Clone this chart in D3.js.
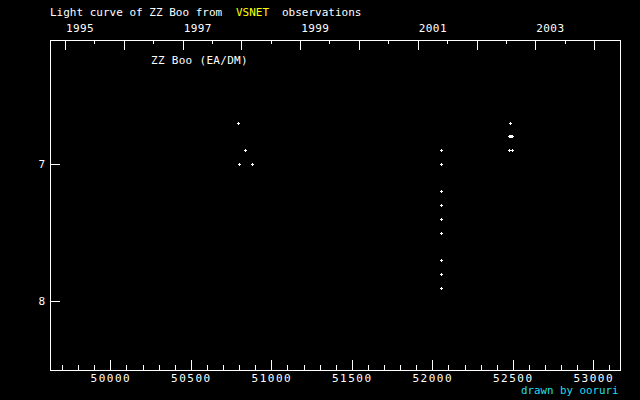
<!DOCTYPE html>
<html>
<head>
<meta charset="utf-8">
<script src="https://cdn.jsdelivr.net/npm/d3@7"></script>
<style>
html,body{margin:0;padding:0;background:#000;}
svg{display:block;}
text{font-family:"DejaVu Sans Mono",monospace;fill:#fff;}
</style>
</head>
<body>
<svg id="chart" width="640" height="400"></svg>
<script>
// ---- data ----
const starName = "ZZ Boo";
const starType = "ZZ Boo (EA/DM)";
const mjd = [50795, 50838, 50801, 50882,
  52056, 52056, 52056, 52056, 52056, 52056, 52056, 52056, 52056,
  52484, 52478, 52484, 52490, 52496, 52474, 52492];
const mag = [6.7, 6.9, 7.0, 7.0,
  6.9, 7.0, 7.2, 7.3, 7.4, 7.5, 7.7, 7.8, 7.9,
  6.7, 6.8, 6.8, 6.8, 6.8, 6.9, 6.9];
const mjdTicks = [50000, 50500, 51000, 51500, 52000, 52500, 53000];
const magTicks = [7, 8];
const years = [1995, 1996, 1997, 1998, 1999, 2000, 2001, 2002, 2003, 2004];
const yearLabels = [1995, 1997, 1999, 2001, 2003];

// ---- layout ----
const W = 640, H = 400;
const L = 50, R = 620, T = 40, B = 370;
const svg = d3.select("#chart");
svg.append("rect").attr("width", W).attr("height", H).attr("fill", "#000");

const x = d3.scaleLinear().domain([49625, 53166]).range([L, R]);
const y = d3.scaleLinear().domain([6.1, 8.5]).range([T, B]);
const toMJD = (yr, m, d) => Date.UTC(yr, m, d) / 86400000 + 40587;

const g = svg.append("g").attr("stroke", "#fff").attr("stroke-width", 1).attr("fill", "none");
// frame
g.append("rect").attr("x", L + 0.5).attr("y", T + 0.5).attr("width", R - L).attr("height", B - T);

// bottom axis ticks (inside, pointing up)
const minorMJD = d3.range(49700, 53166, 100).filter(v => v % 500 !== 0);
g.selectAll(".bmin").data(minorMJD).enter().append("line")
  .attr("x1", d => Math.round(x(d)) + 0.5).attr("x2", d => Math.round(x(d)) + 0.5)
  .attr("y1", B).attr("y2", B - 5);
g.selectAll(".bmaj").data(mjdTicks).enter().append("line")
  .attr("x1", d => Math.round(x(d)) + 0.5).attr("x2", d => Math.round(x(d)) + 0.5)
  .attr("y1", B).attr("y2", B - 10);
svg.selectAll(".blab").data(mjdTicks).enter().append("text")
  .attr("x", d => x(d) + 0.5).attr("y", 382).attr("text-anchor", "middle")
  .attr("font-size", 11).attr("letter-spacing", 1.5).text(d => d);

// top axis: years
g.selectAll(".tmaj").data(years.filter(yr => toMJD(yr,0,1) < 53166)).enter().append("line")
  .attr("x1", d => Math.round(x(toMJD(d,0,1))) + 0.5).attr("x2", d => Math.round(x(toMJD(d,0,1))) + 0.5)
  .attr("y1", T).attr("y2", T + 10);
g.selectAll(".tmin").data(years.filter(yr => toMJD(yr,6,2) < 53166)).enter().append("line")
  .attr("x1", d => Math.round(x(toMJD(d,6,2))) + 0.5).attr("x2", d => Math.round(x(toMJD(d,6,2))) + 0.5)
  .attr("y1", T).attr("y2", T + 4);
svg.selectAll(".tlab").data(yearLabels).enter().append("text")
  .attr("x", d => x(toMJD(d,0,1)) + 1).attr("y", 31.5)
  .attr("font-size", 11).attr("letter-spacing", 0.4).text(d => d);

// left axis ticks
g.selectAll(".lmaj").data(magTicks).enter().append("line")
  .attr("x1", L).attr("x2", L + 10)
  .attr("y1", d => Math.round(y(d)) + 0.5).attr("y2", d => Math.round(y(d)) + 0.5);
svg.selectAll(".llab").data(magTicks).enter().append("text")
  .attr("x", 45).attr("y", d => y(d) + 4).attr("text-anchor", "end")
  .attr("font-size", 11).text(d => d);

// data points: small plus markers
svg.append("g").attr("stroke", "#fff").attr("stroke-width", 1).attr("fill", "none")
  .selectAll("path").data(mjd.map((d, i) => [d, mag[i]])).enter().append("path")
  .attr("d", d => {
    const px = Math.round(x(d[0])) + 0.5, py = Math.round(y(d[1])) + 0.5;
    return `M${px - 1.5},${py}H${px + 1.5}M${px},${py - 1.5}V${py + 1.5}`;
  });

// titles
const title = svg.append("text").attr("x", 50).attr("y", 15.5).attr("font-size", 11);
title.append("tspan").text("Light curve of " + starName + " from");
svg.append("text").attr("x", 236).attr("y", 15.5).attr("font-size", 11).attr("fill", "#ffff00").style("fill", "#ffff00").text("VSNET");
svg.append("text").attr("x", 282).attr("y", 15.5).attr("font-size", 11).text("observations");
svg.append("text").attr("x", 151).attr("y", 64).attr("font-size", 11).attr("letter-spacing", 0.3).text(starType);
svg.append("text").attr("x", 521).attr("y", 394).attr("font-size", 10.8).style("fill", "#22ddee").text("drawn by ooruri");
</script>
</body>
</html>
